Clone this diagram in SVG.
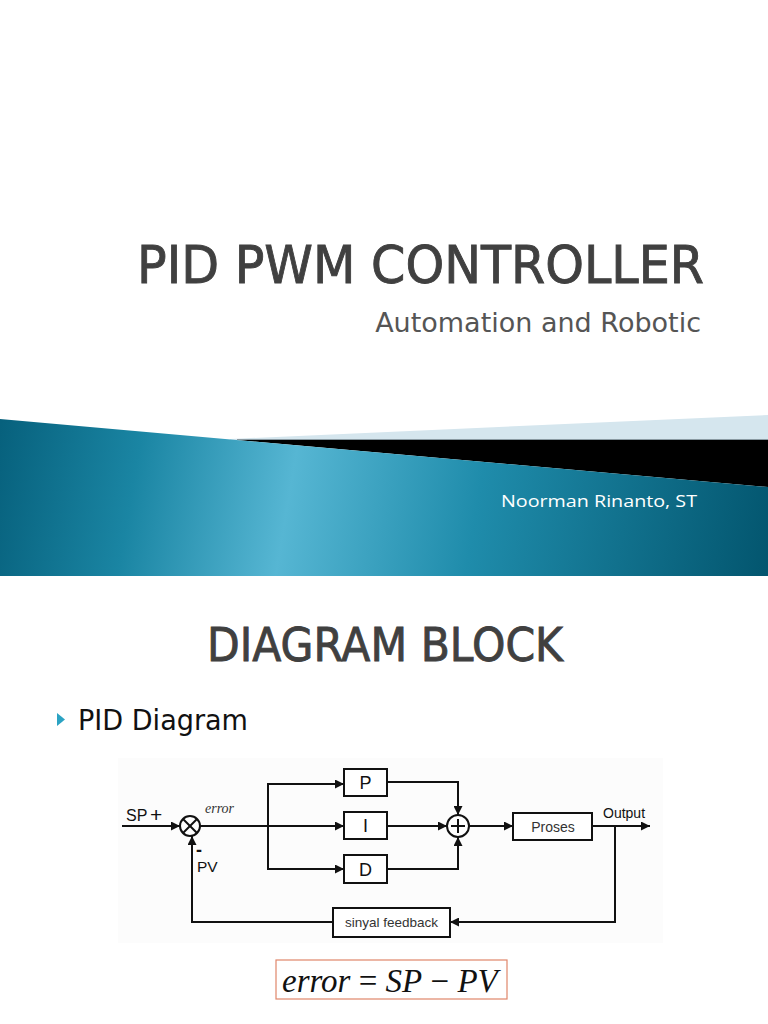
<svg xmlns="http://www.w3.org/2000/svg" width="768" height="1024" viewBox="0 0 768 1024">
<defs>
<linearGradient id="teal" gradientUnits="userSpaceOnUse" x1="0" y1="430" x2="768" y2="560">
<stop offset="0" stop-color="#07617d"/>
<stop offset="0.18" stop-color="#1a85a3"/>
<stop offset="0.38" stop-color="#56b6d3"/>
<stop offset="0.62" stop-color="#1f8cab"/>
<stop offset="1" stop-color="#03566f"/>
</linearGradient>
<marker id="ah" viewBox="0 0 10 10" refX="10" refY="5" markerWidth="9" markerHeight="9" markerUnits="userSpaceOnUse" orient="auto">
<path d="M0,0 L10,5 L0,10 z" fill="#111111"/>
</marker>
<style>
.ln{fill:none;stroke:#111111;stroke-width:2}
.bx{fill:#ffffff;stroke:#111111;stroke-width:2}
.sans{font-family:"Liberation Sans",Arial,sans-serif;fill:#111111}
.head{font-family:"DejaVu Sans","Verdana",sans-serif;fill:#404040;stroke:#404040;stroke-width:0.9}
</style>
</defs>
<rect width="768" height="1024" fill="#ffffff"/>

<g id="title">
<text x="137" y="283" class="head" font-size="52" textLength="567" lengthAdjust="spacingAndGlyphs">PID PWM CONTROLLER</text>
<text x="701" y="332" font-family="DejaVu Sans,sans-serif" font-size="27" fill="#555555" text-anchor="end">Automation and Robotic</text>
</g>

<g id="banner">
<polygon points="230,439 768,415 768,440 230,440" fill="#d5e6ee"/>
<polygon points="237,440 768,440 768,487" fill="#000000"/>
<line x1="237" y1="439.5" x2="768" y2="439.5" stroke="#8a9aa2" stroke-width="1"/>
<polygon points="0,419 768,487 768,576 0,576" fill="url(#teal)"/>
<text x="697" y="507" font-family="Open Sans,DejaVu Sans,sans-serif" font-size="17" fill="#ffffff" text-anchor="end" textLength="196" lengthAdjust="spacingAndGlyphs">Noorman Rinanto, ST</text>
</g>

<g id="heading">
<text x="207" y="661" class="head" font-size="46" textLength="356" lengthAdjust="spacingAndGlyphs">DIAGRAM BLOCK</text>
<polygon points="57,713 65,719.5 57,726" fill="#2ba3c3"/>
<text x="78" y="730" font-family="DejaVu Sans,sans-serif" font-size="29" fill="#111111" textLength="170" lengthAdjust="spacingAndGlyphs">PID Diagram</text>
</g>

<rect x="118" y="758" width="545" height="185" fill="#fcfcfc"/>

<g id="connectors">
<line class="ln" x1="122" y1="826" x2="180" y2="826" marker-end="url(#ah)"/>
<line class="ln" x1="200" y1="826" x2="344" y2="826" marker-end="url(#ah)"/>
<polyline class="ln" points="268,826 268,784 344,784" marker-end="url(#ah)"/>
<polyline class="ln" points="268,826 268,869 344,869" marker-end="url(#ah)"/>
<polyline class="ln" points="387,782 458,782 458,815" marker-end="url(#ah)"/>
<line class="ln" x1="387" y1="826" x2="447" y2="826" marker-end="url(#ah)"/>
<polyline class="ln" points="387,869 458,869 458,837" marker-end="url(#ah)"/>
<line class="ln" x1="469" y1="826" x2="513" y2="826" marker-end="url(#ah)"/>
<line class="ln" x1="592" y1="826" x2="650" y2="826" marker-end="url(#ah)"/>
<polyline class="ln" points="615,826 615,922 450,922" marker-end="url(#ah)"/>
<polyline class="ln" points="333,922 192,922 192,836" marker-end="url(#ah)"/>
</g>

<g id="sum1">
<circle class="bx" cx="190" cy="826" r="10"/>
<line class="ln" x1="183" y1="819" x2="197" y2="833"/>
<line class="ln" x1="197" y1="819" x2="183" y2="833"/>
<text x="126" y="821" class="sans" font-size="16">SP</text>
<text x="150" y="822" class="sans" font-size="21">+</text>
<text x="205" y="813" font-family="Liberation Serif,serif" font-style="italic" font-size="14" fill="#333333">error</text>
<text x="196" y="856" class="sans" font-size="18" font-weight="bold">-</text>
<text x="197" y="872" class="sans" font-size="15.5">PV</text>
</g>

<g id="P">
<rect class="bx" x="344" y="769" width="43" height="27"/>
<text x="365.5" y="789" class="sans" font-size="18" text-anchor="middle">P</text>
</g>
<g id="I">
<rect class="bx" x="344" y="812" width="43" height="27"/>
<text x="365.5" y="832" class="sans" font-size="18" text-anchor="middle">I</text>
</g>
<g id="D">
<rect class="bx" x="344" y="855" width="43" height="28"/>
<text x="365.5" y="876" class="sans" font-size="18" text-anchor="middle">D</text>
</g>

<g id="sum2">
<circle class="bx" cx="458" cy="826" r="11"/>
<line class="ln" x1="451" y1="826" x2="465" y2="826"/>
<line class="ln" x1="458" y1="819" x2="458" y2="833"/>
</g>

<g id="proses">
<rect class="bx" x="513" y="813" width="79" height="27"/>
<text x="553" y="832" class="sans" font-size="14" text-anchor="middle" style="fill:#333333">Proses</text>
<text x="603" y="818" class="sans" font-size="14">Output</text>
</g>

<g id="feedback">
<rect class="bx" x="333" y="908" width="117" height="29"/>
<text x="391.5" y="927" class="sans" font-size="13.5" text-anchor="middle" style="fill:#333333">sinyal feedback</text>
</g>

<g id="formula">
<rect x="276" y="960" width="231" height="39" fill="#ffffff" stroke="#e0866a" stroke-width="1.2"/>
<text x="282" y="992" font-family="Liberation Serif,serif" font-size="33" fill="#111111"><tspan font-style="italic">error</tspan> = <tspan font-style="italic">SP</tspan> − <tspan font-style="italic">PV</tspan></text>
</g>
</svg>
